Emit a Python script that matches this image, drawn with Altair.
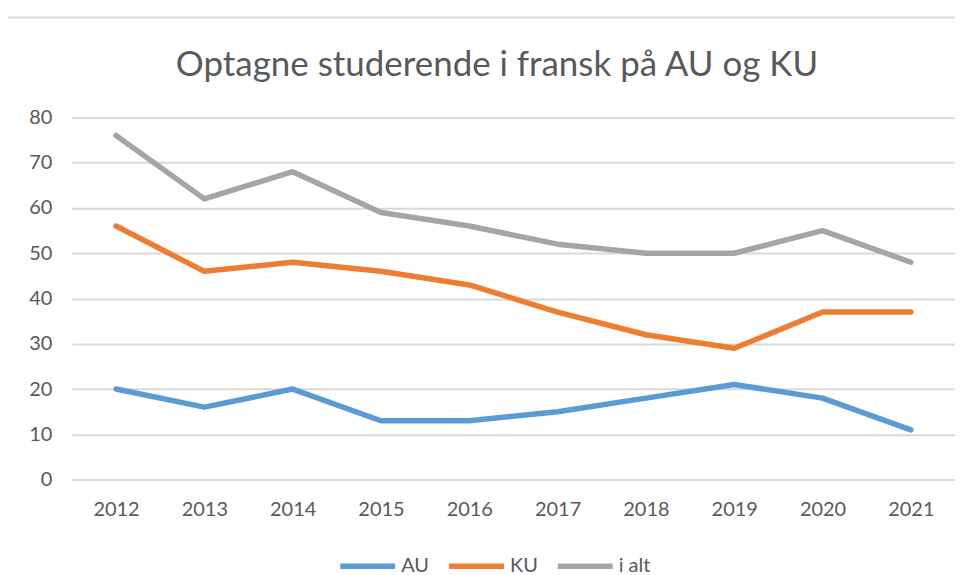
import altair as alt
import pandas as pd

years = ["2012", "2013", "2014", "2015", "2016", "2017", "2018", "2019", "2020", "2021"]
au = [20, 16, 20, 13, 13, 15, 18, 21, 18, 11]
ku = [56, 46, 48, 46, 43, 37, 32, 29, 37, 37]
i_alt = [76, 62, 68, 59, 56, 52, 50, 50, 55, 48]
series_names = ["AU", "KU", "i alt"]
series_colors = ["#5B9BD5", "#ED7D31", "#A5A5A5"]
title_text = "Optagne studerende i fransk på AU og KU"

rows = []
for name, vals in zip(series_names, [au, ku, i_alt]):
    for y, v in zip(years, vals):
        rows.append({"year": y, "value": v, "serie": name})
df = pd.DataFrame(rows)

FONT = "Lato"
TXT = "#595959"

lines = alt.Chart(df).mark_line(strokeWidth=5.5, strokeCap="round", strokeJoin="round").encode(
    x=alt.X("year:O", sort=years, title=None,
            axis=alt.Axis(labelAngle=0, domain=False, ticks=False, grid=False,
                          labelFontSize=20, labelColor=TXT, labelFont=FONT, labelPadding=20)),
    y=alt.Y("value:Q", scale=alt.Scale(domain=[0, 80], nice=False), title=None,
            axis=alt.Axis(values=[0, 10, 20, 30, 40, 50, 60, 70, 80], domain=False, ticks=False,
                          gridColor="#D9D9D9", gridWidth=2, labelFontSize=20, labelColor=TXT,
                          labelFont=FONT, labelPadding=20)),
    color=alt.Color("serie:N", sort=series_names,
                    scale=alt.Scale(domain=series_names, range=series_colors),
                    legend=alt.Legend(title=None, orient="none", direction="horizontal",
                                      legendX=266, legendY=419, symbolType="stroke",
                                      symbolSize=3025, symbolStrokeWidth=5.5,
                                      labelFontSize=20, labelColor=TXT, labelFont=FONT,
                                      labelOffset=3, columnPadding=9)),
)

border = alt.Chart(pd.DataFrame({"a": [0]})).mark_rule(color="#D9D9D9", strokeWidth=2, clip=False).encode(
    x=alt.value(-66), x2=alt.value(900), y=alt.value(-100)
)

title = alt.Chart(pd.DataFrame({"t": [title_text]})).mark_text(
    font=FONT, fontSize=35, color=TXT, align="center", baseline="middle", clip=False
).encode(text="t:N", x=alt.value(426), y=alt.value(-52))

chart = alt.layer(border, title, lines).properties(
    width=885, height=363,
    autosize=alt.AutoSizeParams(type="none"),
    padding={"left": 64, "top": 109, "right": 0, "bottom": 110},
).configure_view(stroke=None)

chart.save("out.html", embed_options={"renderer": "svg", "actions": False})
